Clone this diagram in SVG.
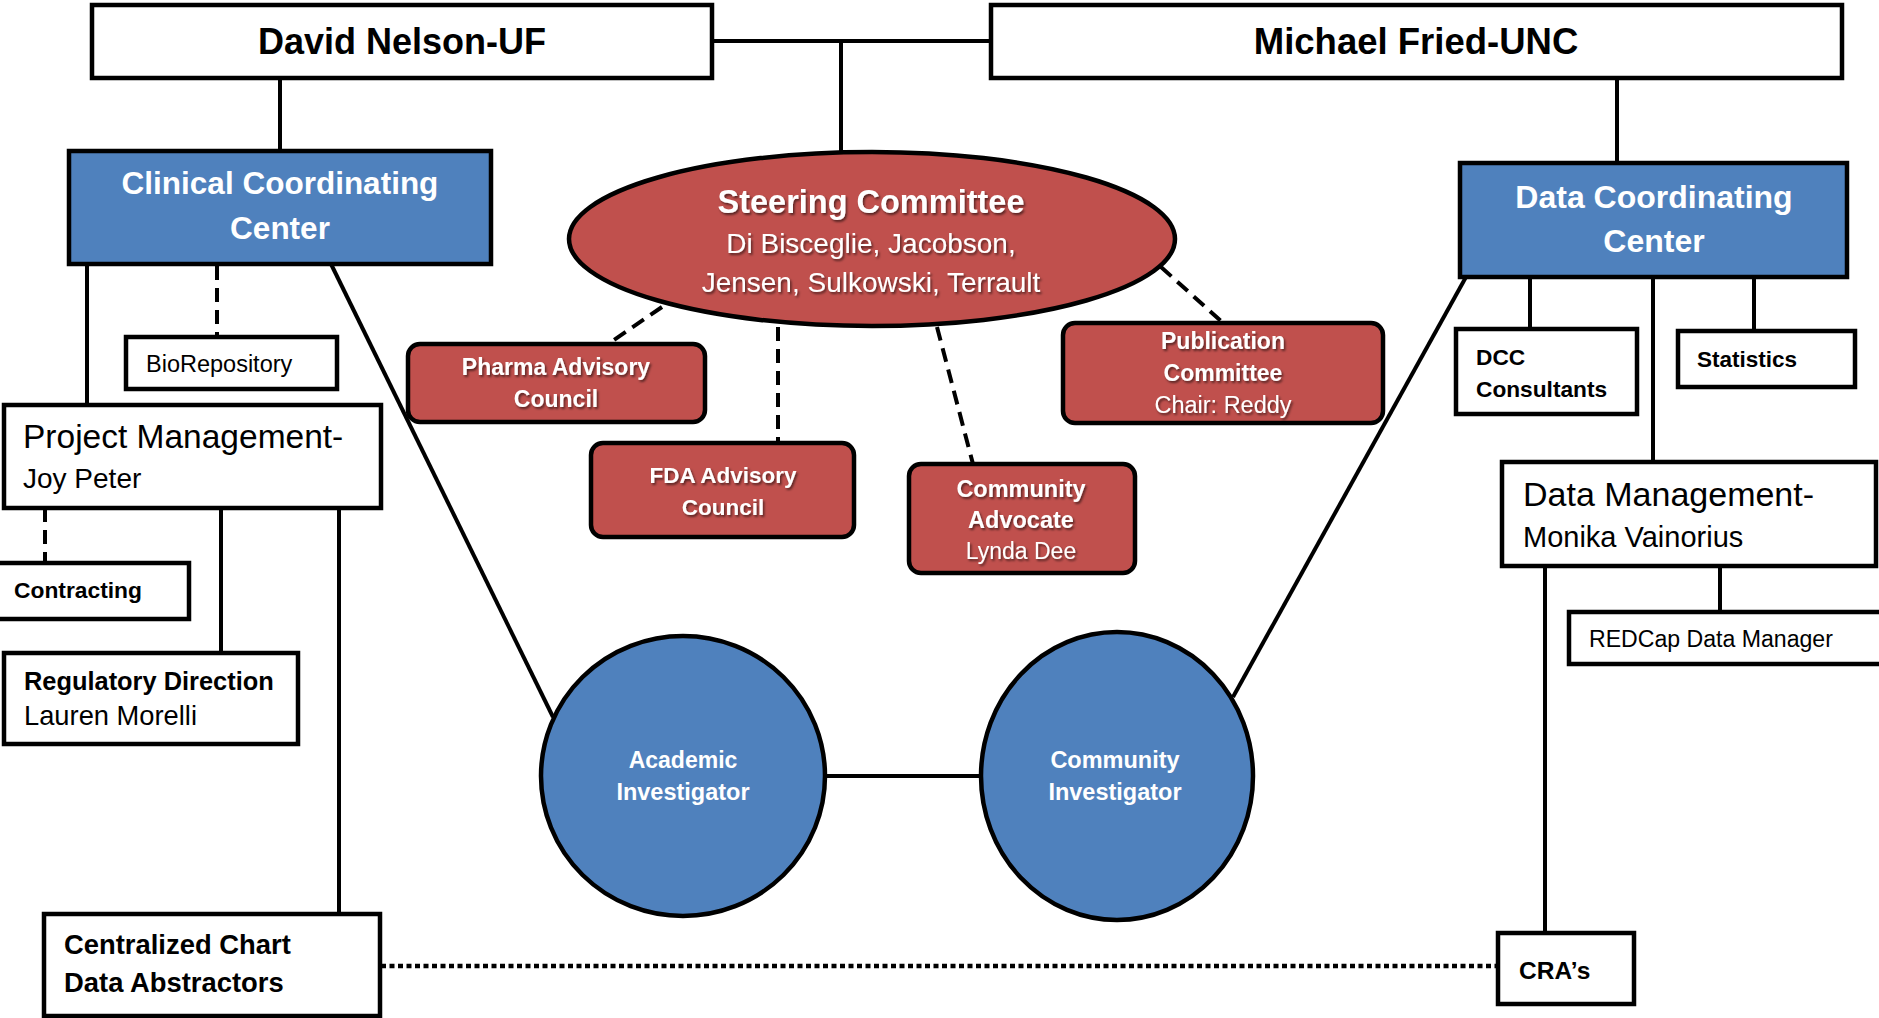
<svg xmlns="http://www.w3.org/2000/svg" width="1879" height="1018" viewBox="0 0 1879 1018">
<defs>
<style>
.box{fill:#fff;stroke:#000;stroke-width:4.5}
.blue{fill:#4F81BD;stroke:#000;stroke-width:4.5}
.red{fill:#C0504D;stroke:#000;stroke-width:4.5}
.ln{stroke:#000;stroke-width:4;fill:none}
.dash{stroke:#000;stroke-width:4;fill:none;stroke-dasharray:14 8}
.dot{stroke:#000;stroke-width:4.5;fill:none;stroke-dasharray:5 3.5}
text{font-family:"Liberation Sans",Arial,sans-serif;fill:#000}
.b{font-weight:bold}
.w{fill:#fff}
.c{text-anchor:middle}
.sh{filter:url(#shadow)}
</style>
<filter id="shadow" x="-10%" y="-20%" width="120%" height="150%">
<feDropShadow dx="1.5" dy="2" stdDeviation="1" flood-color="#000" flood-opacity="0.55"/>
</filter>
</defs>
<rect width="1879" height="1018" fill="#fff"/>
<g id="connectors">
<line class="ln" x1="712" y1="41" x2="991" y2="41"/>
<line class="ln" x1="841" y1="41" x2="841" y2="153"/>
<line class="ln" x1="280" y1="78" x2="280" y2="151"/>
<line class="ln" x1="1617" y1="78" x2="1617" y2="163"/>
<line class="dash" x1="217" y1="266" x2="217" y2="337"/>
<line class="ln" x1="87" y1="264" x2="87" y2="405"/>
<line class="ln" x1="331" y1="264" x2="553" y2="717"/>
<line class="dash" x1="45" y1="508" x2="45" y2="563"/>
<line class="ln" x1="221" y1="508" x2="221" y2="653"/>
<line class="ln" x1="339" y1="508" x2="339" y2="914"/>
<line class="dot" x1="381" y1="966" x2="1498" y2="966"/>
<line class="dash" x1="662" y1="307" x2="608" y2="344"/>
<line class="dash" x1="778" y1="327" x2="778" y2="443"/>
<line class="dash" x1="937" y1="327" x2="973" y2="464"/>
<line class="dash" x1="1161" y1="267" x2="1222" y2="322"/>
<line class="ln" x1="826" y1="776" x2="981" y2="776"/>
<line class="ln" x1="1466" y1="277" x2="1233" y2="697"/>
<line class="ln" x1="1530" y1="277" x2="1530" y2="329"/>
<line class="ln" x1="1653" y1="277" x2="1653" y2="462"/>
<line class="ln" x1="1754" y1="277" x2="1754" y2="331"/>
<line class="ln" x1="1720" y1="566" x2="1720" y2="612"/>
<line class="ln" x1="1545" y1="566" x2="1545" y2="933"/>
</g>
<g id="david">
<rect class="box" x="92" y="5" width="620" height="73"/>
<text class="b c" x="402" y="54" font-size="36">David Nelson-UF</text>
</g>
<g id="michael">
<rect class="box" x="991" y="5" width="851" height="73"/>
<text class="b c" x="1416" y="54" font-size="36.5">Michael Fried-UNC</text>
</g>
<g id="ccc">
<rect class="blue" x="69" y="151" width="422" height="113"/>
<text class="b c w" x="280" y="194" font-size="31.5">Clinical Coordinating</text>
<text class="b c w" x="280" y="239" font-size="31.5">Center</text>
</g>
<g id="dcc">
<rect class="blue" x="1460" y="163" width="387" height="114"/>
<text class="b c w" x="1654" y="208" font-size="32">Data Coordinating</text>
<text class="b c w" x="1654" y="252" font-size="32">Center</text>
</g>
<g id="steering">
<ellipse class="red" cx="872" cy="239" rx="303" ry="87"/>
<text class="b c w sh" x="871" y="213" font-size="32.5">Steering Committee</text>
<text class="c w sh" x="871" y="253" font-size="28">Di Bisceglie, Jacobson,</text>
<text class="c w sh" x="871" y="292" font-size="28">Jensen, Sulkowski, Terrault</text>
</g>
<g id="biorepository">
<rect class="box" x="126" y="337" width="211" height="52"/>
<text x="146" y="372" font-size="23.5">BioRepository</text>
</g>
<g id="pm">
<rect class="box" x="4" y="405" width="377" height="103"/>
<text x="23" y="448" font-size="33.5">Project Management-</text>
<text x="23" y="488" font-size="28">Joy Peter</text>
</g>
<g id="contracting">
<rect class="box" x="-5" y="563" width="194" height="56"/>
<text class="b" x="14" y="598" font-size="22.8">Contracting</text>
</g>
<g id="regulatory">
<rect class="box" x="4" y="653" width="294" height="91"/>
<text class="b" x="24" y="690" font-size="25.4">Regulatory Direction</text>
<text x="24" y="725" font-size="27.3">Lauren Morelli</text>
</g>
<g id="chart">
<rect class="box" x="44" y="914" width="336" height="102"/>
<text class="b" x="64" y="954" font-size="27.4">Centralized Chart</text>
<text class="b" x="64" y="992" font-size="27.4">Data Abstractors</text>
</g>
<g id="pharma">
<rect class="red" x="408" y="344" width="297" height="78" rx="12"/>
<text class="b c w sh" x="556" y="375" font-size="23">Pharma Advisory</text>
<text class="b c w sh" x="556" y="407" font-size="23">Council</text>
</g>
<g id="fda">
<rect class="red" x="591" y="443" width="263" height="94" rx="12"/>
<text class="b c w sh" x="723" y="483" font-size="22.5">FDA Advisory</text>
<text class="b c w sh" x="723" y="515" font-size="22.5">Council</text>
</g>
<g id="advocate">
<rect class="red" x="909" y="464" width="226" height="109" rx="12"/>
<text class="b c w sh" x="1021" y="497" font-size="23.5">Community</text>
<text class="b c w sh" x="1021" y="528" font-size="23.5">Advocate</text>
<text class="c w sh" x="1021" y="559" font-size="23">Lynda Dee</text>
</g>
<g id="publication">
<rect class="red" x="1063" y="323" width="320" height="100" rx="12"/>
<text class="b c w sh" x="1223" y="349" font-size="23">Publication</text>
<text class="b c w sh" x="1223" y="381" font-size="23">Committee</text>
<text class="c w sh" x="1223" y="413" font-size="23.5">Chair: Reddy</text>
</g>
<g id="academic">
<ellipse class="blue" cx="683" cy="776" rx="142" ry="140"/>
<text class="b c w" x="683" y="768" font-size="23">Academic</text>
<text class="b c w" x="683" y="800" font-size="23.5">Investigator</text>
</g>
<g id="community">
<ellipse class="blue" cx="1117" cy="776" rx="136" ry="144"/>
<text class="b c w" x="1115" y="768" font-size="23.5">Community</text>
<text class="b c w" x="1115" y="800" font-size="23.5">Investigator</text>
</g>
<g id="dccconsultants">
<rect class="box" x="1456" y="329" width="181" height="85"/>
<text class="b" x="1476" y="365" font-size="22.7">DCC</text>
<text class="b" x="1476" y="397" font-size="22.7">Consultants</text>
</g>
<g id="statistics">
<rect class="box" x="1678" y="331" width="177" height="56"/>
<text class="b" x="1697" y="367" font-size="22.5">Statistics</text>
</g>
<g id="dm">
<rect class="box" x="1502" y="462" width="374" height="104"/>
<text x="1523" y="506" font-size="34">Data Management-</text>
<text x="1523" y="547" font-size="29">Monika Vainorius</text>
</g>
<g id="redcap">
<rect class="box" x="1569" y="612" width="320" height="52"/>
<text x="1589" y="647" font-size="23.1">REDCap Data Manager</text>
</g>
<g id="cras">
<rect class="box" x="1498" y="933" width="136" height="71"/>
<text class="b" x="1519" y="979" font-size="24.5">CRA’s</text>
</g>
</svg>
